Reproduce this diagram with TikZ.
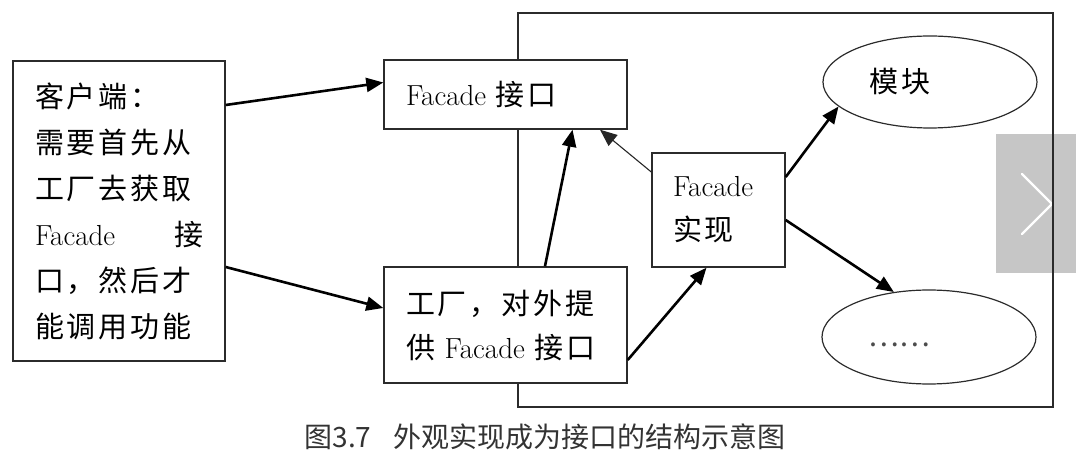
\documentclass[tikz,border=0pt]{standalone}
\usepackage{fontspec}
\usetikzlibrary{arrows.meta,shapes.geometric}
\newfontfamily\cjk[LetterSpace=10]{Noto Sans CJK SC}
\newfontfamily\capfont{Noto Sans CJK SC}
\newcommand\zh[1]{{\cjk #1}}
\definecolor{edge}{HTML}{2B2B2B}
\definecolor{pager}{HTML}{C6C6C6}
\definecolor{captext}{HTML}{333333}
\tikzset{
  box/.style={rectangle, draw=edge, line width=1.4pt, fill=white,
    align=left, inner ysep=0pt,
    font=\fontsize{29pt}{44pt}\selectfont},
  oval/.style={ellipse, draw=edge, line width=1.2pt, inner sep=0pt},
  label/.style={inner sep=0pt, font=\fontsize{29pt}{44pt}\selectfont},
  heavy/.style={line width=2.6pt, draw=black,
    -{Triangle[length=17pt,width=14pt]}},
  light/.style={line width=1.1pt, draw=black!85,
    -{Triangle[length=17pt,width=14pt]}},
}
\begin{document}
\begin{tikzpicture}[x=1pt,y=-1pt]
\useasboundingbox (0,0) rectangle (1088,462);

% slider button behind the system frame edge
\fill[pager] (996,134) rectangle (1076,273);
\draw[white, line width=2.2pt, line cap=round, line join=round]
  (1022,174) -- (1052,204) -- (1022,234);

% system frame
\node[rectangle, draw=edge, line width=1.4pt, minimum width=535pt,
  minimum height=394pt, inner sep=0pt] (sys) at (785.5,210) {};

% client
\node[box, minimum width=212pt, minimum height=300pt, text width=168pt,
  inner xsep=22pt, font=\fontsize{29pt}{46pt}\selectfont] (client) at (119,211)
  {\zh{客户端：}\\ \zh{需要首先从}\\ \zh{工厂去获取}\\
   Facade\hfill\zh{接}\\ \zh{口，然后才}\\ \zh{能调用功能}};

% facade interface
\node[box, minimum width=243pt, minimum height=69pt, text width=199pt,
  inner xsep=22pt] (fi) at (505.5,94.5) {Facade \zh{接口}};

% factory
\node[box, minimum width=243pt, minimum height=116pt, text width=199pt,
  inner xsep=22pt] (fac) at (505.5,325)
  {\zh{工厂，对外提}\\ \zh{供} Facade \zh{接口}};

% facade implementation
\node[box, minimum width=133pt, minimum height=114pt, text width=91pt,
  inner xsep=21pt] (impl) at (718.5,210) {Facade\\ \zh{实现}};

% modules
\node[oval, minimum width=214pt, minimum height=92pt] (mod) at (930,82) {};
\node[label] (modtxt) at (900,82) {\zh{模块}};
\node[oval, minimum width=214pt, minimum height=94pt] (etc) at (929,337) {};
\node[label, text=black!70] (etctxt) at (899,345) {\capfont ……};

% connectors
\draw[heavy] ([yshift=106pt]client.east) -- ([yshift=12pt]fi.west);
\draw[heavy] ([yshift=-56pt]client.east) -- ([yshift=17pt]fac.west);
\draw[heavy] ([xshift=39.5pt]fac.north) -- ([xshift=67pt]fi.south);
\draw[light] ([yshift=38pt]impl.west) -- ([xshift=94.5pt]fi.south);
\draw[heavy] ([yshift=-35pt]fac.east) -- ([xshift=-12pt]impl.south);
\draw[heavy] ([yshift=33pt]impl.east) -- (mod.195);
\draw[heavy] ([yshift=-10pt]impl.east) -- (etc.128);

% caption
\node[inner sep=0pt, text=captext, font=\capfont\fontsize{28pt}{30pt}\selectfont]
  (cap) at (545,437) {图3.7\hspace{22pt}外观实现成为接口的结构示意图};
\end{tikzpicture}
\end{document}
